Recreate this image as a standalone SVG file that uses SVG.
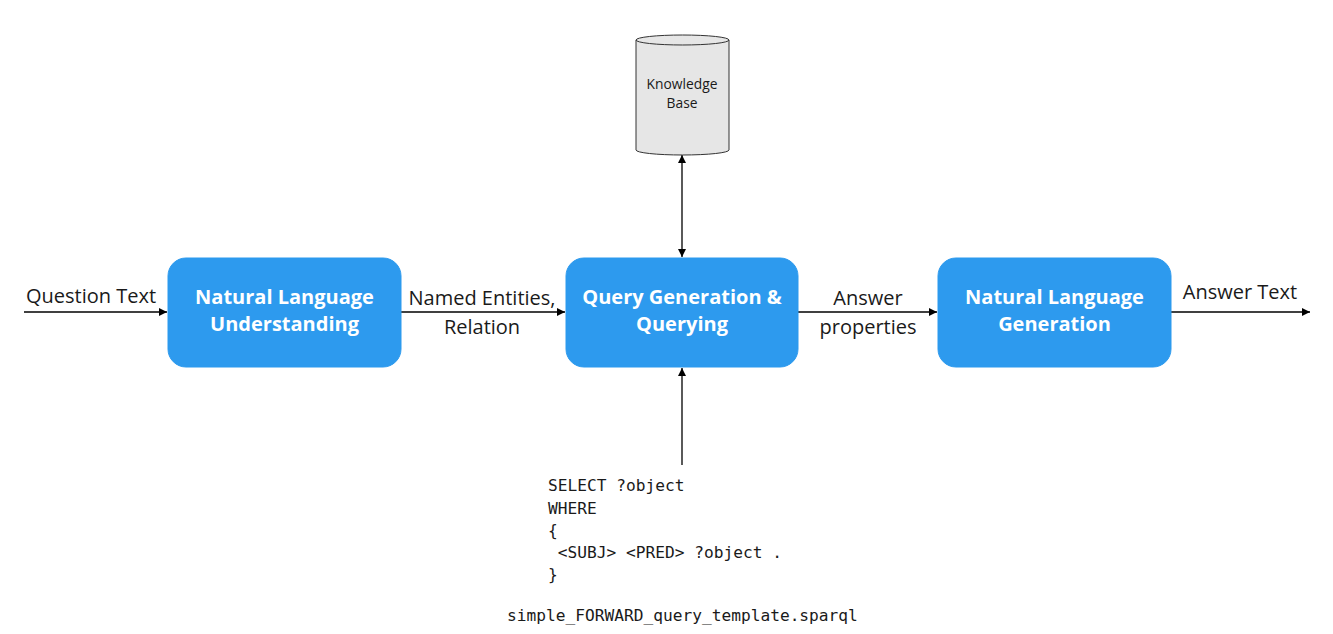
<svg xmlns="http://www.w3.org/2000/svg" width="1333" height="634" viewBox="0 0 1333 634">
<style>
.box{fill:#2d9aee;stroke:#2d9aee;stroke-width:1}
.bt{font-family:"Open Sans","Noto Sans",sans-serif;font-weight:bold;font-size:20px;fill:#fff;text-anchor:middle}
.lbl{font-family:"Open Sans","Noto Sans",sans-serif;font-size:20px;fill:#1a1a1a;text-anchor:middle}
.kb{font-family:"Open Sans","Noto Sans",sans-serif;font-size:13.8px;fill:#1a1a1a;text-anchor:middle}
.code{font-family:"DejaVu Sans Mono","Liberation Mono",monospace;font-size:16.2px;fill:#1a1a1a}
.ln{stroke:#000;stroke-width:1.3;fill:none}
</style>
<defs>
<marker id="ah" viewBox="0 0 10 10" refX="10" refY="5" markerWidth="8" markerHeight="8" markerUnits="userSpaceOnUse" orient="auto-start-reverse">
<path d="M0,0 L10,5 L0,10 z" fill="#000"/>
</marker>
</defs>
<rect width="1333" height="634" fill="#fff"/>
<g id="connectors">
<line class="ln" x1="24" y1="312" x2="167" y2="312" marker-end="url(#ah)"/>
<line class="ln" x1="401" y1="312" x2="565" y2="312" marker-end="url(#ah)"/>
<line class="ln" x1="798" y1="312" x2="937" y2="312" marker-end="url(#ah)"/>
<line class="ln" x1="1171" y1="312" x2="1310" y2="312" marker-end="url(#ah)"/>
<line class="ln" x1="682" y1="155" x2="682" y2="257" marker-start="url(#ah)" marker-end="url(#ah)"/>
<line class="ln" x1="682" y1="465" x2="682" y2="368" marker-end="url(#ah)"/>
<text class="lbl" x="91" y="303">Question Text</text>
<text class="lbl" x="482" y="305">Named Entities,</text>
<text class="lbl" x="482" y="334">Relation</text>
<text class="lbl" x="868" y="305">Answer</text>
<text class="lbl" x="868" y="334">properties</text>
<text class="lbl" x="1240" y="299">Answer Text</text>
</g>
<g id="kb">
<path d="M636,40 L636,150 A46.5,5 0 0 0 729,150 L729,40" fill="#e6e6e6" stroke="#333" stroke-width="1"/>
<ellipse cx="682.5" cy="40" rx="46.5" ry="5" fill="#e6e6e6" stroke="#333" stroke-width="1"/>
<text class="kb" x="682" y="89">Knowledge</text>
<text class="kb" x="682" y="108">Base</text>
</g>
<g id="nlu">
<rect class="box" x="168" y="258" width="233" height="109" rx="18"/>
<text class="bt" x="284.5" y="304">Natural Language</text>
<text class="bt" x="284.5" y="331">Understanding</text>
</g>
<g id="qg">
<rect class="box" x="566" y="258" width="232" height="109" rx="18"/>
<text class="bt" x="682" y="304">Query Generation &amp;</text>
<text class="bt" x="682" y="331">Querying</text>
</g>
<g id="nlg">
<rect class="box" x="938" y="258" width="233" height="109" rx="18"/>
<text class="bt" x="1054.5" y="304">Natural Language</text>
<text class="bt" x="1054.5" y="331">Generation</text>
</g>
<g id="query">
<text class="code" x="548" y="491">SELECT ?object</text>
<text class="code" x="548" y="514">WHERE</text>
<text class="code" x="548" y="536">{</text>
<text class="code" x="548" y="558" xml:space="preserve"> &lt;SUBJ&gt; &lt;PRED&gt; ?object .</text>
<text class="code" x="548" y="580">}</text>
<text class="code" x="507" y="621">simple_FORWARD_query_template.sparql</text>
</g>
</svg>
